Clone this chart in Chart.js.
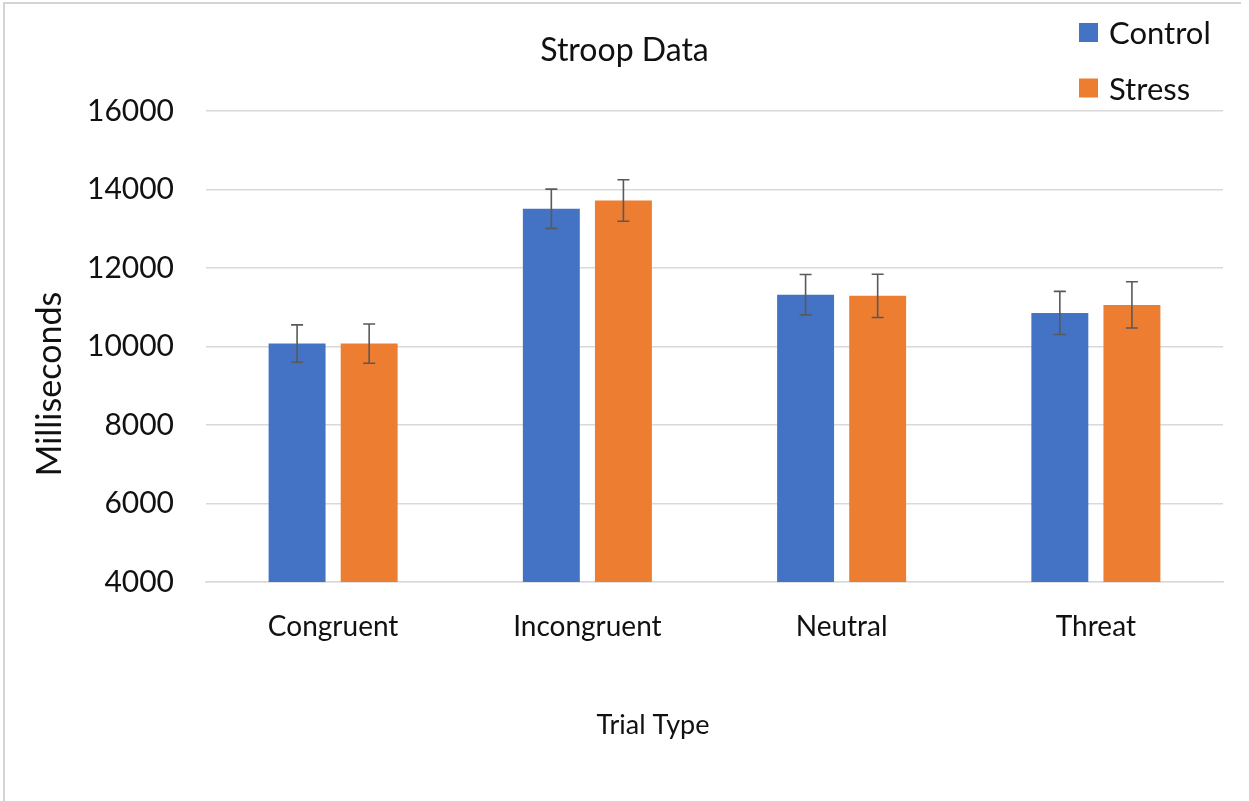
<!DOCTYPE html>
<html>
<head>
<meta charset="utf-8">
<title>Stroop Data</title>
<script src="https://cdn.jsdelivr.net/npm/chart.js@4.4.1/dist/chart.umd.min.js"></script>
<style>
  html, body { margin: 0; padding: 0; background: #fff; }
  #wrap { position: relative; width: 1249px; height: 801px; }
</style>
</head>
<body>
<div id="wrap"><canvas id="myChart" width="1249" height="801"></canvas></div>
<script>
// data
var trialTypes = ['Congruent', 'Incongruent', 'Neutral', 'Threat'];
var seriesNames = ['Control', 'Stress'];
var controlMeans = [10075, 13510, 11320, 10855];
var stressMeans = [10075, 13720, 11290, 11060];
var controlErr = [475, 500, 515, 550];
var stressErr = [500, 530, 550, 590];
var yMin = 4000, yMax = 16000, yStep = 2000;

var blue = '#4472C4';
var orange = '#ED7D31';
var textColor = '#111111';
var gridColor = '#d9d9d9';
var fontName = 'Lato';

var ctx = document.getElementById('myChart').getContext('2d');

// draws the error bars through the y scale
var errorBars = {
  id: 'errorBars',
  afterDatasetsDraw: function(chart) {
    var c = chart.ctx;
    var y = chart.scales.y;
    chart.data.datasets.forEach(function(ds, i) {
      var meta = chart.getDatasetMeta(i);
      meta.data.forEach(function(bar, j) {
        var hi = y.getPixelForValue(ds.data[j] + ds.errors[j]);
        var lo = y.getPixelForValue(ds.data[j] - ds.errors[j]);
        c.save();
        c.strokeStyle = '#595959';
        c.lineWidth = 1.6;
        c.beginPath();
        c.moveTo(bar.x, hi); c.lineTo(bar.x, lo);
        c.moveTo(bar.x - 6, hi); c.lineTo(bar.x + 6, hi);
        c.moveTo(bar.x - 6, lo); c.lineTo(bar.x + 6, lo);
        c.stroke();
        c.restore();
      });
    });
  }
};

// frame, axis titles and legend placed like the excel chart
var decor = {
  id: 'decor',
  beforeDraw: function(chart) {
    var c = chart.ctx;
    c.save();
    c.fillStyle = '#fff';
    c.fillRect(0, 0, chart.width, chart.height);
    c.strokeStyle = '#d4d4d4';
    c.lineWidth = 2;
    c.beginPath();
    c.moveTo(4, chart.height); c.lineTo(4, 3); c.lineTo(1241, 3);
    c.stroke();
    c.restore();
  },
  afterDraw: function(chart) {
    var c = chart.ctx;
    c.save();
    c.fillStyle = textColor;
    c.textAlign = 'center';
    c.textBaseline = 'middle';

    // x axis title
    c.font = '27px ' + fontName;
    c.fillText('Trial Type', 653, 725);

    // y axis title
    c.save();
    c.translate(50, 384);
    c.rotate(-Math.PI / 2);
    c.font = '34px ' + fontName;
    c.fillText('Milliseconds', 0, 0);
    c.restore();

    // legend
    c.textAlign = 'left';
    c.font = '31px ' + fontName;
    chart.data.datasets.forEach(function(ds, i) {
      var top = 23 + i * 55.5;
      c.fillStyle = ds.backgroundColor;
      c.fillRect(1079, top, 19, 19);
      c.fillStyle = textColor;
      c.fillText(ds.label, 1109, top + 11);
    });
    c.restore();
  }
};

var myChart = new Chart(ctx, {
  type: 'bar',
  data: {
    labels: trialTypes,
    datasets: [
      {
        label: seriesNames[0],
        data: controlMeans,
        errors: controlErr,
        backgroundColor: blue,
        borderWidth: 0
      },
      {
        label: seriesNames[1],
        data: stressMeans,
        errors: stressErr,
        backgroundColor: orange,
        borderWidth: 0
      }
    ]
  },
  options: {
    responsive: false,
    animation: false,
    devicePixelRatio: 1,
    categoryPercentage: 0.567,
    barPercentage: 0.79,
    layout: { padding: { left: 26, right: 26, top: 0, bottom: 0 } },
    plugins: {
      legend: { display: false },
      tooltip: { enabled: false },
      title: {
        display: true,
        text: 'Stroop Data',
        color: textColor,
        font: { family: fontName, size: 32, weight: 'normal' },
        padding: { top: 31, bottom: 41.6 }
      }
    },
    scales: {
      x: {
        grid: { display: false, drawTicks: false },
        border: { display: true, color: gridColor, width: 1.5 },
        ticks: {
          color: textColor,
          padding: 28,
          font: { family: fontName, size: 28 }
        },
        afterFit: function(scale) { scale.height = 219; }
      },
      y: {
        min: yMin,
        max: yMax,
        grid: { color: gridColor, lineWidth: 1.5, drawTicks: false },
        border: { display: false },
        ticks: {
          stepSize: yStep,
          color: textColor,
          padding: 32,
          font: { family: fontName, size: 30 },
          callback: function(v) { return String(v); }
        },
        afterFit: function(scale) { scale.width = 180; }
      }
    }
  },
  plugins: [decor, errorBars]
});
</script>
</body>
</html>
